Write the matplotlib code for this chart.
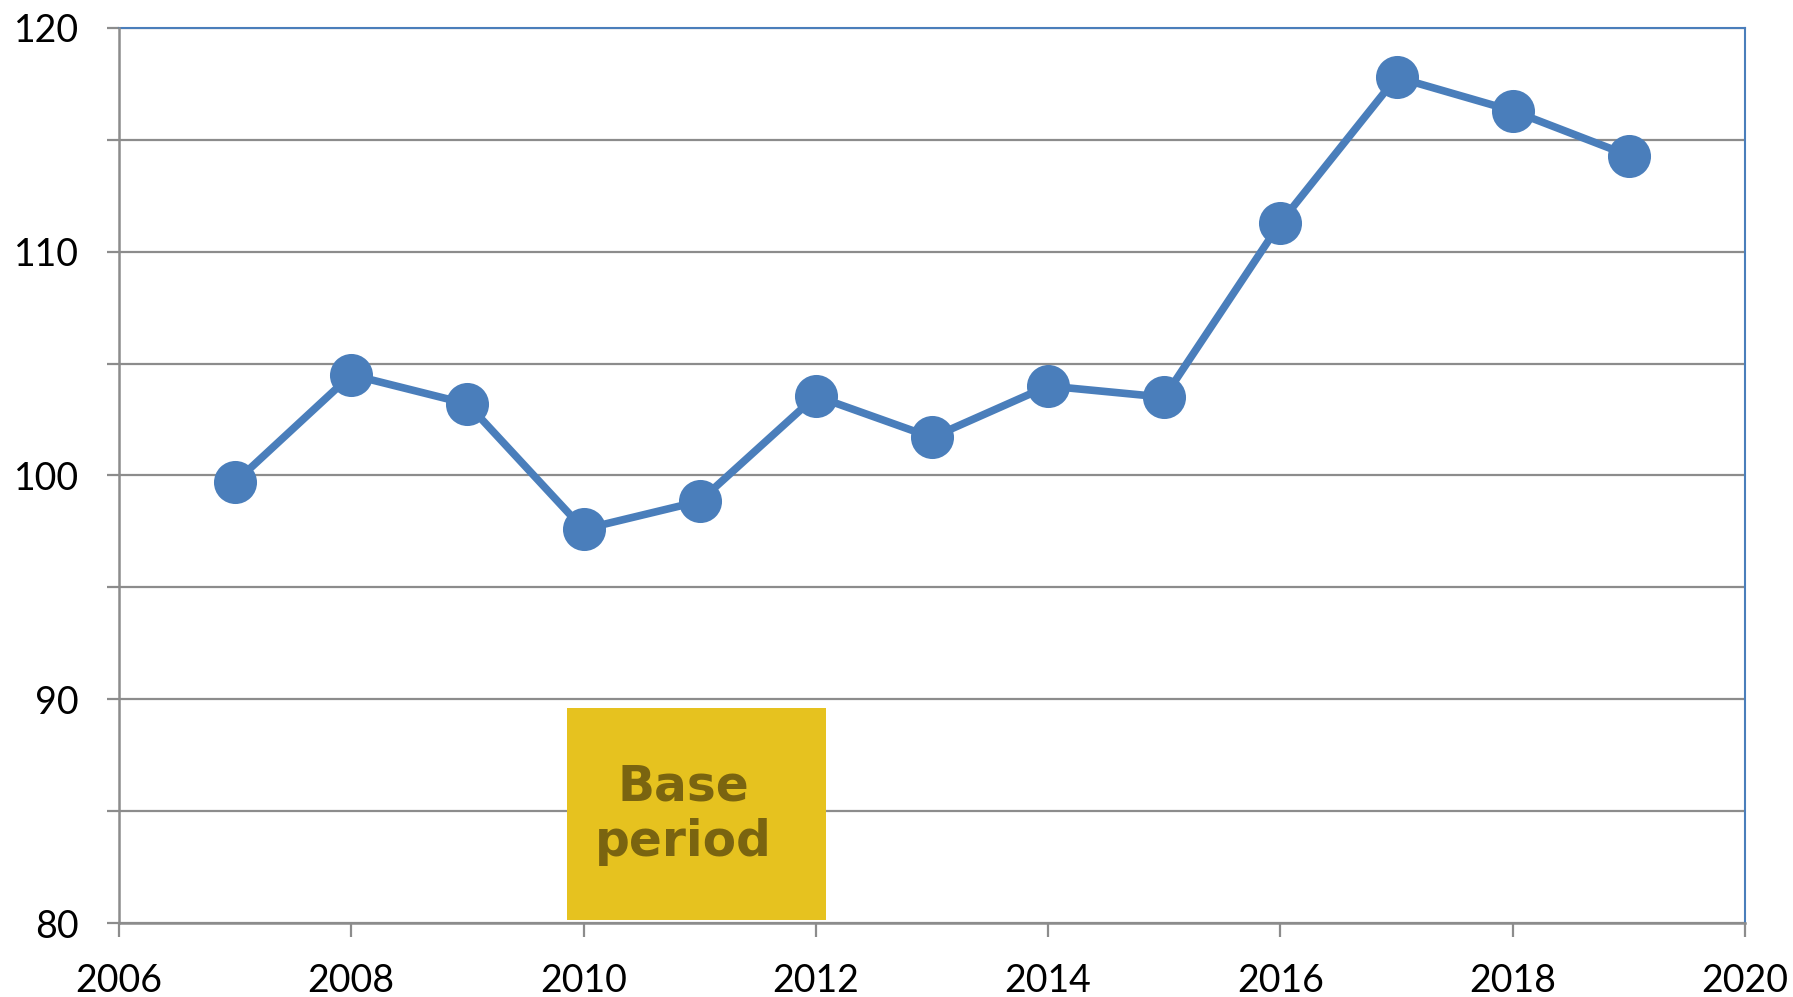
import matplotlib.pyplot as plt
from matplotlib.ticker import MultipleLocator
from matplotlib.patches import Rectangle

years = [2007, 2008, 2009, 2010, 2011, 2012, 2013, 2014, 2015, 2016, 2017, 2018, 2019]
index = [99.7, 104.5, 103.2, 97.6, 98.85, 103.55, 101.7, 104.0, 103.5, 111.3, 117.8, 116.3, 114.3]
base_label = "Base\nperiod"
base_x = (2009.86, 2012.09)
base_y = (80.13, 89.6)

blue = "#4A7EBB"
grey = "#8C8C8C"

fig = plt.figure(figsize=(17.93, 9.97), dpi=100)
ax = fig.add_axes([119 / 1793, 1 - 923 / 997, (1745 - 119) / 1793, (923 - 28) / 997])

ax.set_xlim(2006, 2020)
ax.set_ylim(80, 120)
ax.xaxis.set_major_locator(MultipleLocator(2))
ax.yaxis.set_major_locator(MultipleLocator(10))
ax.yaxis.set_minor_locator(MultipleLocator(5))

ax.grid(axis="y", which="both", color=grey, linewidth=1.6, zorder=1)
ax.set_axisbelow(True)

for side in ("top", "right"):
    ax.spines[side].set_color(blue)
    ax.spines[side].set_linewidth(1.5)
for side in ("left", "bottom"):
    ax.spines[side].set_color(grey)
    ax.spines[side].set_linewidth(1.8)
    ax.spines[side].set_zorder(4)

ax.tick_params(axis="both", which="both", direction="out", color=grey, width=1.6,
               labelsize=27, labelcolor="black")
ax.tick_params(axis="x", which="major", length=10, pad=19)
ax.tick_params(axis="y", which="both", length=9, pad=20)
for lab in ax.get_xticklabels() + ax.get_yticklabels():
    lab.set_fontfamily("Lato")

ax.add_patch(Rectangle((base_x[0], base_y[0]), base_x[1] - base_x[0], base_y[1] - base_y[0],
                       facecolor="#E6C21F", edgecolor="none", zorder=2))
ax.text(2010.86, 84.85, base_label, ha="center", va="center", fontsize=35,
        fontweight="bold", color="#7A6410", linespacing=1.2, zorder=3)

ax.plot(years, index, color=blue, linewidth=5.5, marker="o", markersize=31,
        markeredgewidth=0, zorder=5, clip_on=False)

fig.savefig("out.png", dpi=100)
